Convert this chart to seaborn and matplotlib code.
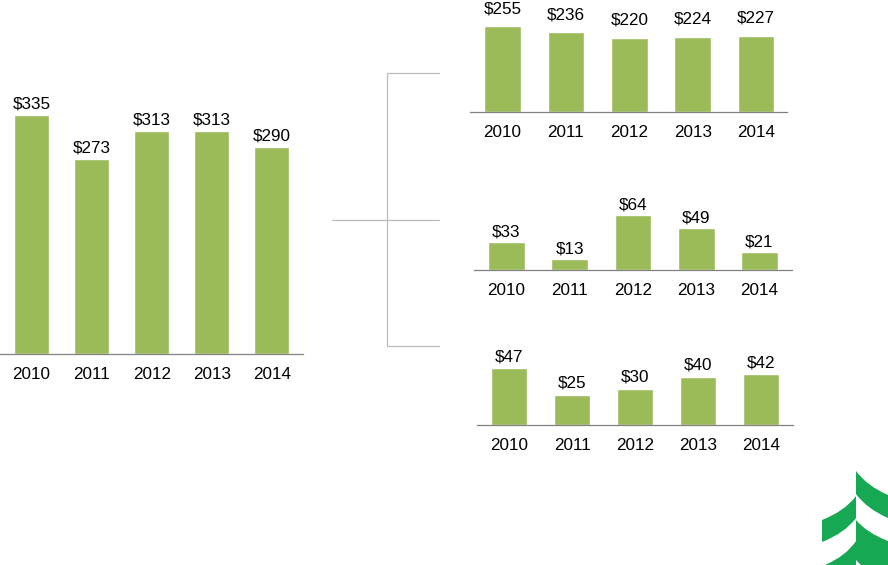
import matplotlib
matplotlib.use("Agg")
import matplotlib.pyplot as plt
import seaborn as sns
import pandas as pd
from matplotlib.path import Path
from matplotlib.patches import PathPatch

# ---- data ----
years = ["2010", "2011", "2012", "2013", "2014"]
total = [335, 273, 313, 313, 290]
part_a = [255, 236, 220, 224, 227]
part_b = [33, 13, 64, 49, 21]
part_c = [47, 25, 30, 40, 42]

W, H = 888, 565
BAR = "#9BBB59"
AXIS = "#808080"
BRACKET = "#bcbcbc"
LOGO = "#17a853"

sns.set_theme(style="white")
plt.rcParams['font.family'] = ['Liberation Sans', 'DejaVu Sans']

fig = plt.figure(figsize=(W / 100, H / 100), dpi=100)
fig.patch.set_facecolor("white")

# overlay for bracket and logo (pixel coordinates)
ov = fig.add_axes([0, 0, 1, 1], zorder=-1)
ov.set_xlim(0, W)
ov.set_ylim(H, 0)
ov.axis("off")


def panel(values, left, right, top_px, base_px, px_per_unit,
          first_center, spacing, label_off):
    ax = fig.add_axes([left / W, 1 - base_px / H, (right - left) / W,
                       (base_px - top_px) / H])
    df = pd.DataFrame({"year": years, "value": values})
    sns.barplot(data=df, x="year", y="value", order=years, color=BAR,
                saturation=1, width=0.58, ax=ax)
    lo = -(first_center - left) / spacing
    hi = lo + (right - left) / spacing
    ax.set_xlim(lo, hi)
    ax.set_ylim(0, (base_px - top_px) / px_per_unit)
    for s in ["top", "left", "right"]:
        ax.spines[s].set_visible(False)
    ax.spines["bottom"].set_color(AXIS)
    ax.spines["bottom"].set_linewidth(0.9)
    ax.set_xlabel("")
    ax.set_ylabel("")
    ax.set_yticks([])
    ax.tick_params(axis="x", length=0, pad=9.5, labelsize=12.3,
                   colors="black")
    ax.patch.set_alpha(0)
    for i, v in enumerate(values):
        ax.annotate(f"${v}", xy=(i, v), xytext=(0, label_off),
                    textcoords="offset pixels", ha="center", va="baseline",
                    fontsize=12.3, color="black", annotation_clip=False)
    return ax


panel(total, 0, 303, 80, 354, 0.713, 31.5, 60.1, 6.5)
panel(part_a, 470, 787, 0, 112, 0.337, 502.5, 63.4, 13)
panel(part_b, 474, 792, 195, 270, 0.86, 506.5, 63.25, 5.5)
panel(part_c, 477, 793, 340, 425, 1.21, 509, 63.0, 7)

# bracket
lw = 0.9
ov.plot([387, 387], [73, 346], color=BRACKET, lw=lw)
ov.plot([387, 439], [73, 73], color=BRACKET, lw=lw)
ov.plot([332, 439], [220, 220], color=BRACKET, lw=lw)
ov.plot([387, 439], [346, 346], color=BRACKET, lw=lw)


def wing(cx, y0, x1, drop, thick, ctrl_dx, ctrl_dy):
    cxp = cx + ctrl_dx
    verts = [(cx, y0), (cxp, y0 + ctrl_dy), (x1, y0 + drop),
             (x1, y0 + drop + thick),
             (cxp, y0 + ctrl_dy + thick), (cx, y0 + thick), (cx, y0)]
    codes = [Path.MOVETO, Path.CURVE3, Path.CURVE3, Path.LINETO,
             Path.CURVE3, Path.CURVE3, Path.CLOSEPOLY]
    ov.add_patch(PathPatch(Path(verts, codes), facecolor=LOGO,
                           edgecolor="none"))


cx = 856
wing(cx, 471, 888, 24, 23, 11, 15)
wing(cx, 520, 888, 21, 40, 11, 13)
wing(cx, 496, 822, 24, 22, -11, 15)
wing(cx, 541, 825, 24, 30, -10, 15)

fig.savefig("out.png", dpi=100, facecolor="white")
